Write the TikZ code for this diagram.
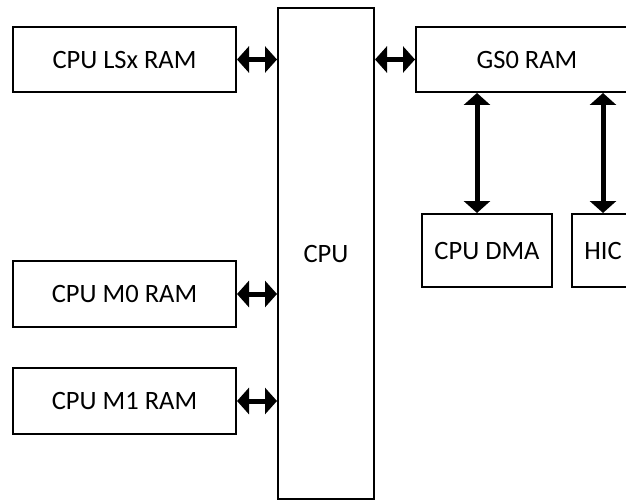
\documentclass[tikz,border=0pt]{standalone}
\usepackage{fontspec}
\setmainfont{Carlito}
\usetikzlibrary{arrows.meta}
\begin{document}
\begin{tikzpicture}[x=1pt,y=-1pt,
  box/.style={draw=black,line width=2pt,fill=white,inner sep=0pt,
    font=\fontsize{26.5}{30}\selectfont},
  dbl/.style={draw=black,line width=5pt,{Triangle[length=12pt,width=26pt]}-{Triangle[length=12pt,width=26pt]}}]
\useasboundingbox (0,0) rectangle (626,500);
\clip (0,0) rectangle (626,500);
\fill[white] (0,0) rectangle (626,500);
\node[box,minimum width=223pt,minimum height=65pt] (lsx) at (124.5,59.5) {CPU LSx RAM};
\node[box,minimum width=223pt,minimum height=66pt] (m0) at (124.5,294) {CPU M0 RAM};
\node[box,minimum width=223pt,minimum height=66pt] (m1) at (124.5,401) {CPU M1 RAM};
\node[box,minimum width=96pt,minimum height=491pt] (cpu) at (326,253.5) {CPU};
\node[box,minimum width=222pt,minimum height=65pt] (gs0) at (527,59.5) {GS0 RAM};
\node[box,minimum width=130pt,minimum height=73pt] (dma) at (487,250.5) {CPU DMA};
\node[box,minimum width=62pt,minimum height=73pt] (hic) at (603,250.5) {HIC};
\coordinate (dmax) at (477,0);
\coordinate (hicx) at (603,0);
\draw[dbl] (lsx.east) -- (lsx.east -| cpu.west);
\draw[dbl] (cpu.east |- gs0.west) -- (gs0.west);
\draw[dbl] (m0.east) -- (m0.east -| cpu.west);
\draw[dbl] (m1.east) -- (m1.east -| cpu.west);
\draw[dbl] (gs0.south -| dmax) -- (dma.north -| dmax);
\draw[dbl] (gs0.south -| hicx) -- (hic.north -| hicx);
\end{tikzpicture}
\end{document}
